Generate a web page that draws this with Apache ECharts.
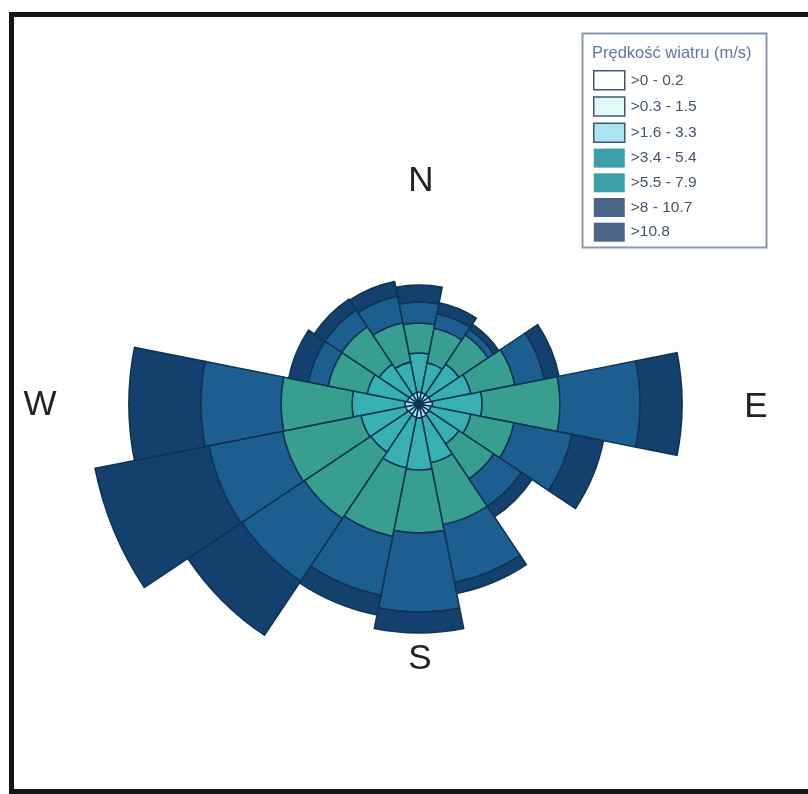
<!DOCTYPE html>
<html>
<head>
<meta charset="utf-8">
<script src="https://cdn.jsdelivr.net/npm/echarts@6/dist/echarts.min.js"></script>
<style>
  html, body { margin: 0; padding: 0; background: #ffffff; }
  #chart { width: 808px; height: 794px; }
</style>
</head>
<body>
<div id="chart"></div>
<script>
// Wind directions (16 sectors, clockwise from north)
const directions = ['N', 'NNE', 'NE', 'ENE', 'E', 'ESE', 'SE', 'SSE',
                    'S', 'SSW', 'SW', 'WSW', 'W', 'WNW', 'NW', 'NNW'];

// Speed classes (m/s)
const speedClasses = ['>0 - 0.2', '>0.3 - 1.5', '>1.6 - 3.3', '>3.4 - 5.4',
                      '>5.5 - 7.9', '>8 - 10.7', '>10.8'];

// Frequency (%) of each speed class per direction
const class1 = [0.03, 0.03, 0.03, 0.03, 0.03, 0.03, 0.03, 0.03, 0.03, 0.03, 0.03, 0.03, 0.03, 0.03, 0.03, 0.03];
const class2 = [0.10, 0.10, 0.10, 0.10, 0.12, 0.10, 0.10, 0.12, 0.12, 0.12, 0.10, 0.12, 0.12, 0.10, 0.10, 0.10];
const class3 = [0.27, 0.25, 0.25, 0.27, 0.30, 0.27, 0.27, 0.30, 0.32, 0.30, 0.28, 0.30, 0.32, 0.27, 0.25, 0.25];
const class4 = [1.30, 1.02, 1.22, 1.36, 1.65, 1.36, 1.20, 1.55, 1.73, 1.72, 1.52, 1.52, 1.76, 1.36, 1.22, 1.05];
const class5 = [1.00, 1.17, 1.17, 1.50, 2.60, 1.47, 1.40, 2.10, 2.10, 2.33, 2.67, 2.67, 2.37, 1.33, 1.50, 1.33];
const class6 = [0.70, 0.50, 0.23, 1.00, 2.67, 1.97, 1.10, 1.97, 2.63, 2.00, 2.50, 2.50, 2.67, 0.67, 0.67, 0.90];
const class7 = [0.57, 0.37, 0.20, 0.50, 1.40, 1.07, 0.43, 0.37, 0.70, 0.67, 2.17, 3.87, 2.40, 0.67, 0.43, 0.50];

const classValues = [class1, class2, class3, class4, class5, class6, class7];

// Sector fill colours, calm to strong
const sectorColors = ['#f2fbfd', '#d6f5fa', '#a6e2ef', '#37b0b2', '#389e90', '#1d5e91', '#14406e'];
// Softer swatches used in the key
const legendFill = ['#ffffff', '#e2f9fc', '#a9e4f2', '#3a9fa6', '#3ba0a6', '#4a6587', '#4a6587'];
const legendBorder = ['#3f5575', '#3f5575', '#3f5575', null, null, null, null];

// Compass labels
const compassLabels = [
  { text: 'N', x: 421, y: 181 },
  { text: 'E', x: 756, y: 407 },
  { text: 'S', x: 420, y: 659 },
  { text: 'W', x: 40, y: 405 }
];

const FONT = '"Liberation Sans", Arial, Helvetica, sans-serif';

const chart = echarts.init(document.getElementById('chart'), null, { renderer: 'canvas' });

const series = classValues.map((vals, i) => ({
  name: speedClasses[i],
  type: 'bar',
  coordinateSystem: 'polar',
  stack: 'wind',
  barCategoryGap: '0%',
  data: vals,
  itemStyle: {
    color: sectorColors[i],
    borderColor: '#0e3452',
    borderWidth: 1.5
  },
  emphasis: { disabled: true },
  animation: false
}));

const option = {
  backgroundColor: '#ffffff',
  animation: false,
  polar: {
    center: [419, 404],
    radius: 360
  },
  angleAxis: {
    type: 'category',
    data: directions,
    startAngle: 101.25,
    clockwise: true,
    axisLine: { show: false },
    axisTick: { show: false },
    axisLabel: { show: false },
    splitLine: { show: false }
  },
  radiusAxis: {
    type: 'value',
    min: 0,
    max: 12,
    axisLine: { show: false },
    axisTick: { show: false },
    axisLabel: { show: false },
    splitLine: { show: false }
  },
  title: {
    text: 'Prędkość wiatru (m/s)',
    left: 592,
    top: 45,
    padding: 0,
    textStyle: {
      fontFamily: FONT,
      fontSize: 16.5,
      fontWeight: 'normal',
      color: '#6276a0'
    }
  },
  legend: {
    orient: 'vertical',
    left: 593,
    top: 70,
    padding: 0,
    itemWidth: 31,
    itemHeight: 19,
    itemGap: 5.7,
    icon: 'rect',
    selectedMode: false,
    textStyle: {
      fontFamily: FONT,
      fontSize: 15.5,
      color: '#3f5575',
      padding: [0, 0, 0, 1]
    },
    data: speedClasses.map((name, i) => ({
      name: name,
      itemStyle: {
        color: legendFill[i],
        borderColor: legendBorder[i] || legendFill[i],
        borderWidth: legendBorder[i] ? 1.5 : 0
      }
    }))
  },
  graphic: [
    // outer frame
    {
      type: 'rect',
      shape: { x: 11.5, y: 14.5, width: 820, height: 777 },
      style: { fill: 'none', stroke: '#151515', lineWidth: 5 },
      silent: true
    },
    // key box
    {
      type: 'rect',
      shape: { x: 582.5, y: 33.5, width: 184, height: 214 },
      style: { fill: 'none', stroke: '#8797ae', lineWidth: 2 },
      silent: true
    }
  ].concat(compassLabels.map(c => ({
    type: 'text',
    x: c.x,
    y: c.y,
    style: {
      text: c.text,
      fontFamily: FONT,
      fontSize: 35,
      fill: '#222222',
      align: 'center',
      verticalAlign: 'middle'
    },
    silent: true
  }))),
  series: series
};

chart.setOption(option);
</script>
</body>
</html>
